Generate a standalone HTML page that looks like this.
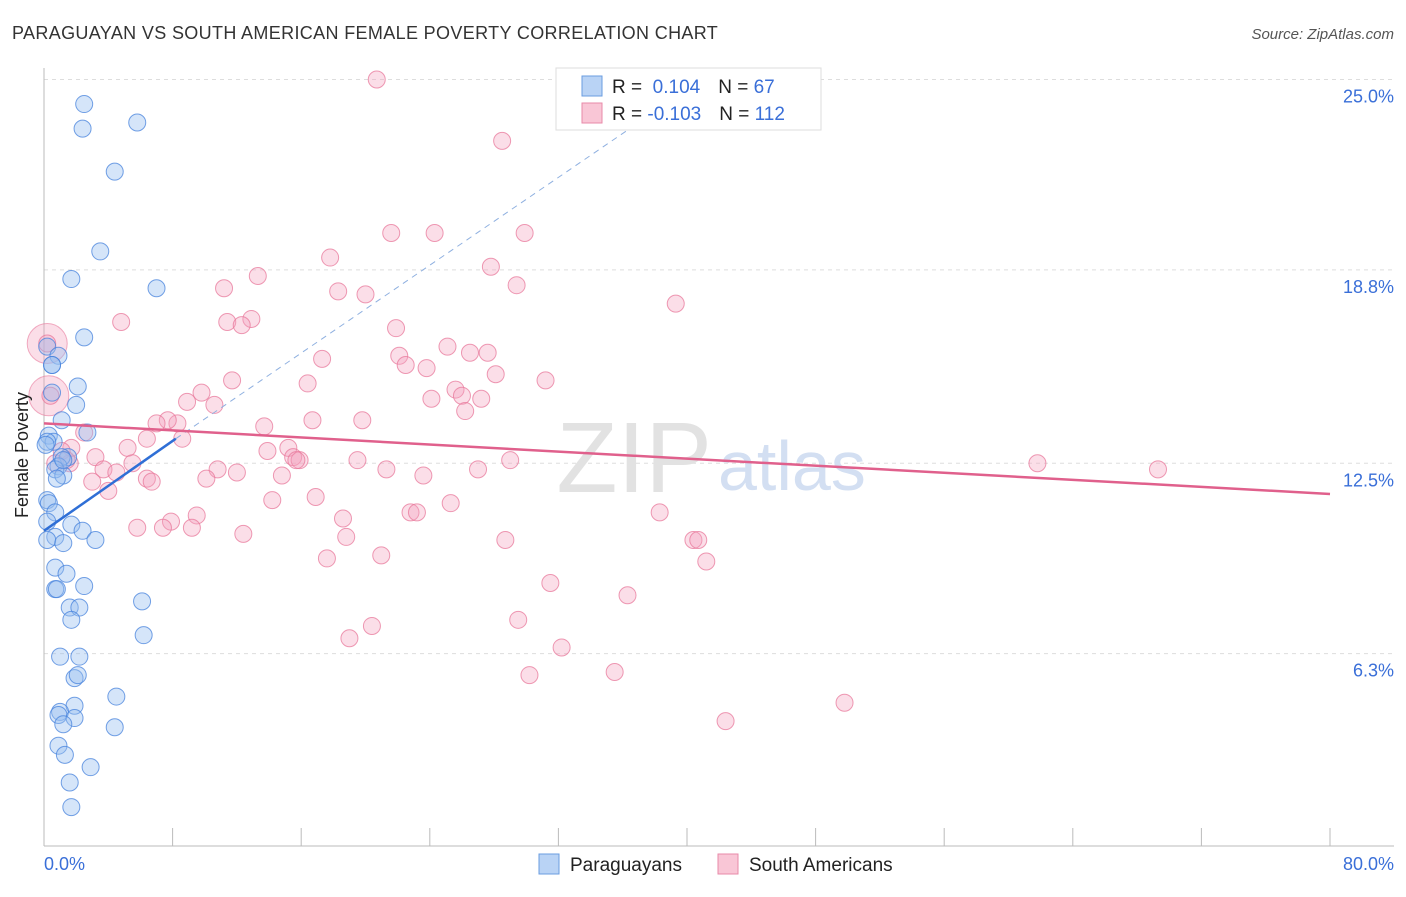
<!DOCTYPE html>
<html><head><meta charset="utf-8"><style>
body{margin:0;background:#fff;font-family:"Liberation Sans",sans-serif;}
svg text{font-family:"Liberation Sans",sans-serif;}
</style></head><body>
<svg id="chart" width="1406" height="892">
<text x="12" y="39" font-size="18" fill="#333" letter-spacing="0.35">PARAGUAYAN VS SOUTH AMERICAN FEMALE POVERTY CORRELATION CHART</text>
<text x="1394" y="39" font-size="15" fill="#555" text-anchor="end" font-style="italic">Source: ZipAtlas.com</text>
<g id="grid"></g>
<text x="712" y="492" font-size="100" fill="#e2e2e2" text-anchor="end" font-family="Liberation Serif">ZIP</text>
<text x="718" y="490" font-size="70" fill="#d3dff2">atlas</text>
<g id="pts"></g>
<g id="lines"></g>
<text x="28" y="455" font-size="18" fill="#222" text-anchor="middle" transform="rotate(-90 28 455)">Female Poverty</text>
<text x="44" y="870" font-size="18" fill="#3a6fd8">0.0%</text>
<text x="1394" y="870" font-size="18" fill="#3a6fd8" text-anchor="end">80.0%</text>
<g>
<rect x="556" y="68" width="265" height="62" fill="#fff" stroke="#ddd"/>
<rect x="582" y="76" width="20" height="20" fill="#b9d3f5" stroke="#6a9de0"/>
<rect x="582" y="103" width="20" height="20" fill="#f9c6d6" stroke="#e88aa8"/>
<text x="612" y="93" font-size="19" fill="#222">R = <tspan fill="#3a6fd8">&#160;0.104</tspan><tspan dx="18">N = </tspan><tspan fill="#3a6fd8"> 67</tspan></text>
<text x="612" y="120" font-size="19" fill="#222">R = <tspan fill="#3a6fd8">-0.103</tspan><tspan dx="18">N = </tspan><tspan fill="#3a6fd8">112</tspan></text>
</g>
<g>
<rect x="539" y="854" width="20" height="20" fill="#b9d3f5" stroke="#6a9de0"/>
<text x="570" y="871" font-size="19" fill="#222">Paraguayans</text>
<rect x="718" y="854" width="20" height="20" fill="#f9c6d6" stroke="#e88aa8"/>
<text x="749" y="871" font-size="19" fill="#222">South Americans</text>
</g>
</svg>
<script>
const yTicks=[25.0,18.8,12.5,6.3];
const yTickLabels=["25.0%","18.8%","12.5%","6.3%"];
const xTicks=[0,8,16,24,32,40,48,56,64,72,80];
const blueX=[2.5,2.4,5.8,4.4,3.5,1.7,7.0,2.5,0.2,0.9,0.5,2.1,0.5,2.0,1.1,2.7,0.3,0.6,1.5,1.1,0.9,0.7,1.2,0.8,0.2,0.3,0.7,0.2,1.7,2.4,0.7,3.2,0.2,1.2,0.7,1.4,0.7,0.8,2.5,1.6,2.2,6.1,1.7,6.2,1.0,2.2,1.9,2.1,4.5,1.9,1.0,0.9,1.9,1.2,4.4,0.9,1.3,2.9,1.6,1.7,0.2,0.1,0.5,1.2];
const blueY=[24.2,23.4,23.6,22.0,19.4,18.5,18.2,16.6,16.3,16.0,15.7,15.0,14.8,14.4,13.9,13.5,13.4,13.2,12.7,12.7,12.4,12.3,12.1,12.0,11.3,11.2,10.9,10.6,10.5,10.3,10.1,10.0,10.0,9.9,9.1,8.9,8.4,8.4,8.5,7.8,7.8,8.0,7.4,6.9,6.2,6.2,5.5,5.6,4.9,4.6,4.4,4.3,4.2,4.0,3.9,3.3,3.0,2.6,2.1,1.3,13.2,13.1,15.7,12.6];
const pinkX=[20.7,28.5,21.6,24.3,29.9,17.8,13.3,27.8,29.4,11.2,18.3,20.0,39.3,4.8,11.4,12.9,12.3,21.9,25.1,26.5,27.6,22.1,22.5,23.8,17.3,28.1,11.7,16.4,31.2,25.6,26.0,9.8,27.2,8.9,24.1,10.6,26.2,8.3,7.7,7.0,16.7,19.8,13.7,2.5,6.4,8.6,5.2,15.2,13.9,15.5,3.2,15.9,15.7,1.6,19.5,29.0,5.5,3.7,10.8,27.0,21.3,12.0,4.5,14.8,23.6,10.1,6.4,6.7,3.0,4.0,14.2,16.9,25.3,22.8,23.2,9.5,18.6,7.9,38.3,5.8,7.4,9.2,12.4,18.8,28.7,40.4,40.7,17.6,20.98,41.2,31.5,36.3,29.5,20.4,19.0,32.2,35.5,30.2,42.4,49.8,61.8,69.3,1.7,1.1,1.4,0.7,0.2,0.4];
const pinkY=[25.0,23.0,20.0,20.0,20.0,19.2,18.6,18.9,18.3,18.2,18.1,18.0,17.7,17.1,17.1,17.2,17.0,16.9,16.3,16.1,16.1,16.0,15.7,15.6,15.9,15.4,15.2,15.1,15.2,14.9,14.7,14.8,14.6,14.5,14.6,14.4,14.2,13.8,13.9,13.8,13.9,13.9,13.7,13.5,13.3,13.3,13.0,13.0,12.9,12.7,12.7,12.6,12.6,12.5,12.6,12.6,12.5,12.3,12.3,12.3,12.3,12.2,12.2,12.1,12.1,12.0,12.0,11.9,11.9,11.6,11.3,11.4,11.2,10.9,10.9,10.8,10.7,10.6,10.9,10.4,10.4,10.4,10.2,10.1,10.0,10.0,10.0,9.4,9.5,9.3,8.6,8.2,7.4,7.2,6.8,6.5,5.7,5.6,4.1,4.7,12.5,12.3,13.0,12.9,12.6,12.5,16.4,14.7];
const bigPinkX=[0.2,0.3],bigPinkY=[16.4,14.7];
const blueFit=[[0,10.3],[8.2,13.3]],blueDash=[[8.2,13.3],[37,23.6]];
const pinkFit=[[0,13.8],[80,11.5]];
const X=v=>44+v*16.075, Y=v=>847-v*30.7;
const NS="http://www.w3.org/2000/svg";
function mk(tag,attrs,parent){const e=document.createElementNS(NS,tag);for(const k in attrs)e.setAttribute(k,attrs[k]);parent.appendChild(e);return e;}
const grid=document.getElementById('grid');
yTicks.forEach((t,i)=>{
 const l=mk('line',{x1:44,x2:1394,y1:Y(t),y2:Y(t),stroke:'#ddd','stroke-dasharray':'4,4'},grid);
 
 
 const tx=mk('text',{x:1394,y:Y(t)+23,'font-size':18,fill:'#3a6fd8','text-anchor':'end'},grid);
 tx.textContent=yTickLabels[i];
 
 
});
const ax=mk('line',{x1:44,x2:44,y1:68,y2:846,stroke:'#bbb'},grid);


const bx=mk('line',{x1:44,x2:1394,y1:846,y2:846,stroke:'#bbb'},grid);


xTicks.forEach(t=>{const l=mk('line',{x1:X(t),x2:X(t),y1:828,y2:846,stroke:'#bbb'},grid);
 
 });
const pts=document.getElementById('pts');
bigPinkX.forEach((v,i)=>{const c=mk('circle',{cx:X(v),cy:Y(bigPinkY[i]),r:20,fill:'rgba(243,160,188,0.35)',stroke:'rgba(232,120,155,0.6)'},pts);
 
 });
pinkX.forEach((v,i)=>{const c=mk('circle',{cx:X(v),cy:Y(pinkY[i]),r:8.5,fill:'rgba(243,160,188,0.35)',stroke:'rgba(232,120,155,0.75)'},pts);
 
 });
blueX.forEach((v,i)=>{const c=mk('circle',{cx:X(v),cy:Y(blueY[i]),r:8.5,fill:'rgba(150,190,240,0.4)',stroke:'rgba(70,130,220,0.75)'},pts);
 
 });
const lines=document.getElementById('lines');
let l1=mk('line',{x1:X(blueDash[0][0]),y1:Y(blueDash[0][1]),x2:X(blueDash[1][0]),y2:Y(blueDash[1][1]),stroke:'#8fb0e0','stroke-width':1,'stroke-dasharray':'6,5'},lines);


let l2=mk('line',{x1:X(blueFit[0][0]),y1:Y(blueFit[0][1]),x2:X(blueFit[1][0]),y2:Y(blueFit[1][1]),stroke:'#2f6fd6','stroke-width':2.5},lines);


let l3=mk('line',{x1:X(pinkFit[0][0]),y1:Y(pinkFit[0][1]),x2:X(pinkFit[1][0]),y2:Y(pinkFit[1][1]),stroke:'#e0608c','stroke-width':2.5},lines);


</script>
</body></html>
